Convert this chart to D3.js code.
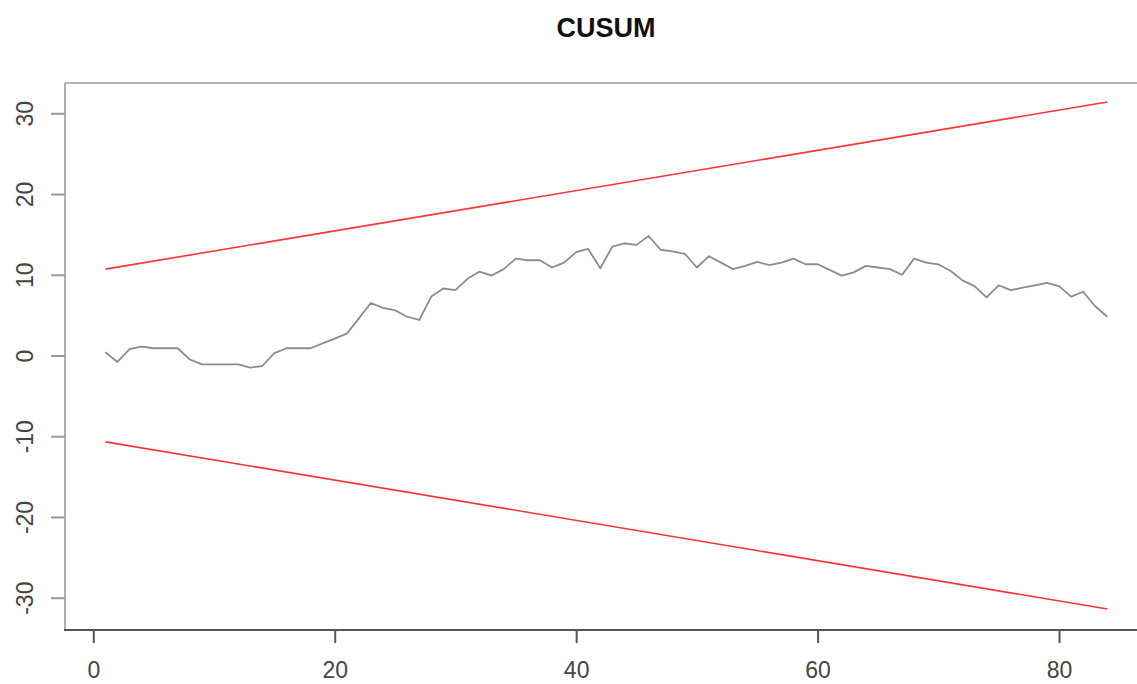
<!DOCTYPE html>
<html>
<head>
<meta charset="utf-8">
<script src="https://cdn.jsdelivr.net/npm/d3@7"></script>
<style>
  body { margin: 0; background: #fff; }
  svg { display: block; font-family: "Liberation Sans", Arial, sans-serif; }
</style>
</head>
<body>
<div id="chart"></div>
<script>
// CUSUM statistic, t = 1..84
const cusum = [
  0.4, -0.8, 0.8, 1.1, 0.9, 0.9, 0.9, -0.5, -1.1, -1.1,
  -1.1, -1.1, -1.5, -1.3, 0.3, 0.9, 0.9, 0.9, 1.5, 2.1,
  2.7, 4.6, 6.5, 5.9, 5.6, 4.8, 4.4, 7.3, 8.3, 8.1,
  9.5, 10.4, 9.9, 10.7, 12.0, 11.8, 11.8, 10.9, 11.5, 12.8,
  13.2, 10.8, 13.5, 13.9, 13.7, 14.8, 13.1, 12.9, 12.6, 10.9,
  12.3, 11.5, 10.7, 11.1, 11.6, 11.2, 11.5, 12.0, 11.3, 11.3,
  10.6, 9.9, 10.3, 11.1, 10.9, 10.7, 10.0, 12.0, 11.5, 11.3,
  10.5, 9.3, 8.6, 7.2, 8.7, 8.1, 8.4, 8.7, 9.0, 8.6,
  7.3, 7.9, 6.1, 4.8
];
// control limits (straight lines, endpoints)
const upperBound = [[1, 10.7], [84, 31.4]];
const lowerBound = [[1, -10.7], [84, -31.4]];
const xTicks = [0, 20, 40, 60, 80];
const yTicks = [-30, -20, -10, 0, 10, 20, 30];

const W = 1137, H = 684;
const frame = { left: 65, top: 83, bottom: 630, right: 1140 };

const svg = d3.select("#chart").append("svg")
  .attr("width", W).attr("height", H);

const x = d3.scaleLinear().domain([0, 80]).range([93.3, 1059]);
const y = d3.scaleLinear().domain([-30, 30]).range([597.7, 113.3]);

// title
svg.append("text")
  .attr("x", 606).attr("y", 37)
  .attr("text-anchor", "middle")
  .style("font-size", "27px").style("font-weight", "bold")
  .style("fill", "#111")
  .text("CUSUM");

// frame: top + left light gray, bottom darker
svg.append("line")
  .attr("x1", frame.left).attr("x2", frame.right)
  .attr("y1", frame.top).attr("y2", frame.top)
  .attr("stroke", "#b4b4b4").attr("stroke-width", 2);
svg.append("line")
  .attr("x1", frame.left).attr("x2", frame.left)
  .attr("y1", frame.top).attr("y2", frame.bottom)
  .attr("stroke", "#b0b0b0").attr("stroke-width", 2);

// x axis
const xAxis = svg.append("g")
  .attr("transform", `translate(0,${frame.bottom})`)
  .call(d3.axisBottom(x).tickValues(xTicks).tickFormat(d => String(d))
    .tickSize(13).tickPadding(19));
xAxis.select(".domain").remove();
xAxis.selectAll(".tick line").attr("stroke", "#555").attr("stroke-width", 2);
xAxis.selectAll(".tick text")
  .style("font-size", "23px").style("fill", "#444")
  .style("font-family", '"Liberation Sans", Arial, sans-serif');

svg.append("line")
  .attr("x1", frame.left - 1).attr("x2", frame.right)
  .attr("y1", frame.bottom).attr("y2", frame.bottom)
  .attr("stroke", "#555").attr("stroke-width", 2);

// y axis (plain hyphen minus like R)
const yAxis = svg.append("g")
  .attr("transform", `translate(${frame.left},0)`)
  .call(d3.axisLeft(y).tickValues(yTicks).tickFormat(d => String(d)).tickSize(14));
yAxis.select(".domain").remove();
yAxis.selectAll(".tick line").attr("stroke", "#999").attr("stroke-width", 2);
yAxis.selectAll(".tick text")
  .attr("x", null).attr("dy", null)
  .attr("transform", "translate(-32,0) rotate(-90)")
  .attr("text-anchor", "middle")
  .style("font-size", "23px").style("fill", "#444")
  .style("font-family", '"Liberation Sans", Arial, sans-serif');

// control limits
const line = d3.line().x(d => x(d[0])).y(d => y(d[1]));
[upperBound, lowerBound].forEach(b => {
  svg.append("path")
    .attr("d", line(b))
    .attr("fill", "none")
    .attr("stroke", "#ff3333")
    .attr("stroke-width", 1.6);
});

// CUSUM path
svg.append("path")
  .datum(cusum)
  .attr("d", d3.line().x((d, i) => x(i + 1)).y(d => y(d)))
  .attr("fill", "none")
  .attr("stroke", "#8c8c8c")
  .attr("stroke-width", 1.8)
  .attr("stroke-linejoin", "round");
</script>
</body>
</html>
